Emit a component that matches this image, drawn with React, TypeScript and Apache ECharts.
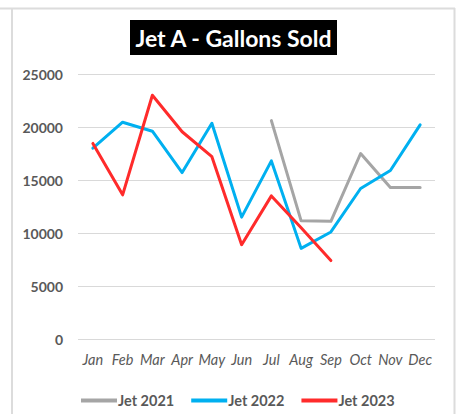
import React, { useEffect, useRef } from "react";
import * as echarts from "echarts";

const months = ["Jan", "Feb", "Mar", "Apr", "May", "Jun", "Jul", "Aug", "Sep", "Oct", "Nov", "Dec"];
const jet2021 = [null, null, null, null, null, null, 20600, 11150, 11100, 17500, 14300, 14300];
const jet2022 = [18000, 20450, 19600, 15700, 20350, 11500, 16800, 8550, 10100, 14200, 15900, 20200];
const jet2023 = [18450, 13600, 23000, 19550, 17200, 8900, 13500, 10500, 7400, null, null, null];
const seriesNames = ["Jet 2021", "Jet 2022", "Jet 2023"];
const seriesColors = ["#A5A5A5", "#00B0F0", "#FF2B2B"];
const titleText = "Jet A - Gallons Sold";

export default function App() {
  const ref = useRef<HTMLDivElement>(null);
  useEffect(() => {
    if (!ref.current) return;
    const chart = echarts.init(ref.current, null, { renderer: "svg" });
    const data = [jet2021, jet2022, jet2023];
    chart.setOption({
      animation: false,
      backgroundColor: "#ffffff",
      grid: { left: 78, right: 22, top: 74, bottom: 75 },
      graphic: [
        { type: "line", shape: { x1: 0, y1: 8.5, x2: 455, y2: 8.5 }, style: { stroke: "#dcdcdc", lineWidth: 2 } },
        { type: "line", shape: { x1: 12, y1: 8, x2: 12, y2: 414 }, style: { stroke: "#dcdcdc", lineWidth: 2 } },
        { type: "line", shape: { x1: 454.5, y1: 8, x2: 454.5, y2: 414 }, style: { stroke: "#dcdcdc", lineWidth: 2 } },
        { type: "rect", shape: { x: 130, y: 20, width: 207, height: 35 }, style: { fill: "#000000" } },
        {
          type: "text",
          x: 233.5,
          y: 38,
          style: {
            text: titleText,
            fill: "#ffffff",
            font: "bold 23px Lato",
            align: "center",
            verticalAlign: "middle",
          },
        },
      ],
      legend: {
        left: 76,
        top: 388,
        itemWidth: 36,
        itemHeight: 4,
        itemGap: 17,
        icon: "rect",
        data: seriesNames,
        textStyle: {
          color: "#595959",
          fontWeight: "bold",
          fontSize: 14.5,
          fontFamily: "Lato",
          padding: [0, 0, 0, -4],
        },
      },
      xAxis: {
        type: "category",
        data: months,
        boundaryGap: true,
        axisLine: { show: false },
        axisTick: { show: false },
        axisLabel: {
          color: "#595959",
          fontStyle: "italic",
          fontSize: 14.5,
          fontFamily: "Lato",
          margin: 13,
          interval: 0,
        },
      },
      yAxis: {
        type: "value",
        min: 0,
        max: 25000,
        interval: 5000,
        axisLine: { show: false },
        axisTick: { show: false },
        splitLine: { lineStyle: { color: "#d9d9d9", width: 1 } },
        axisLabel: {
          color: "#595959",
          fontWeight: "bold",
          fontSize: 14,
          fontFamily: "Lato",
          margin: 15,
          formatter: (v: number) => String(v),
        },
      },
      series: data.map((d, i) => ({
        name: seriesNames[i],
        type: "line",
        data: d,
        symbol: "none",
        color: seriesColors[i],
        lineStyle: { width: 3, color: seriesColors[i], cap: "round", join: "round" },
        connectNulls: false,
      })),
    });
    return () => chart.dispose();
  }, []);
  return <div ref={ref} style={{ position: "fixed", left: 0, top: 0, width: 457, height: 414 }} />;
}
